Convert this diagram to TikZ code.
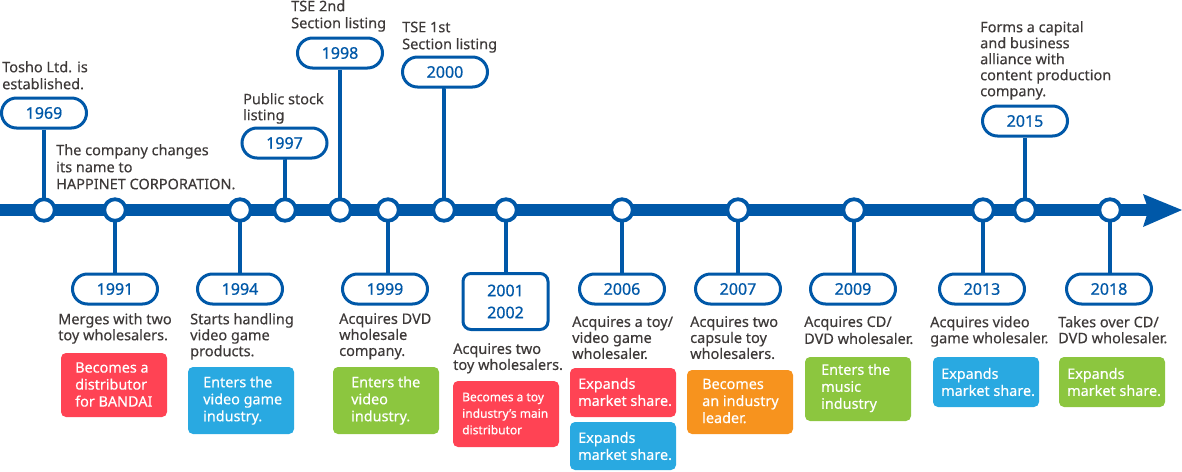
\documentclass[tikz,border=0pt]{standalone}
\usepackage{fontspec}
\setmainfont{Noto Sans}[FakeBold=0.35]
\newfontfamily\yearfont{Noto Sans}[FakeBold=0.6]
\definecolor{tlblue}{HTML}{0058A8}
\definecolor{txtgray}{HTML}{3E3A39}
\definecolor{bred}{HTML}{FF4354}
\definecolor{bblue}{HTML}{29A9E1}
\definecolor{bgreen}{HTML}{8CC63F}
\definecolor{borange}{HTML}{F7931E}
\tikzset{
  x=1pt,y=-1pt,
  yearpill/.style={draw=tlblue,line width=3pt,fill=white,rounded corners=15pt,minimum width=85pt,minimum height=30pt,inner sep=0pt,text=tlblue,font=\fontsize{16}{22}\yearfont,align=center},
  yearbox/.style={yearpill,rounded corners=8pt,minimum height=56pt},
  dotnode/.style={circle,draw=tlblue,line width=3.8pt,fill=white,minimum size=21.5pt,inner sep=0pt},
  stem/.style={draw=tlblue,line width=4.2pt},
  desc/.style={anchor=north west,inner sep=0pt,text=txtgray,align=left,font=\fontsize{14.5}{16}\selectfont},
  desctall/.style={desc,font=\fontsize{14.5}{17}\selectfont},
  tagtext/.style={anchor=west,inner sep=0pt,text=white,align=left,font=\fontsize{14.4}{17}\selectfont},
  tagsmall/.style={tagtext,font=\fontsize{12}{16.5}\selectfont},
}
\begin{document}
\begin{tikzpicture}
\useasboundingbox (0,0) rectangle (1182,471);
% axis
\coordinate (axl) at (0,210);
\coordinate (axr) at (1150,210);
\draw[tlblue,line width=12pt] (axl) -- (axr);
\fill[tlblue] (1143,194) -- (1182,210) -- (1143,227) -- (1148.5,210) -- cycle;
% year pills
\node[yearpill] (y1969) at (44,113) {1969};
\node[yearpill] (y1997) at (284.5,143) {1997};
\node[yearpill] (y1998) at (340,53) {1998};
\node[yearpill] (y2000) at (445,72) {2000};
\node[yearpill] (y2015) at (1025,121) {2015};
\node[yearpill] (y1991) at (115,289) {1991};
\node[yearpill] (y1994) at (240,289) {1994};
\node[yearpill] (y1999) at (385,289) {1999};
\node[yearbox] (y2001) at (505.5,301.5) {2001\\2002};
\node[yearpill] (y2006) at (622,289) {2006};
\node[yearpill] (y2007) at (738,289) {2007};
\node[yearpill] (y2009) at (853,289) {2009};
\node[yearpill] (y2013) at (982,289) {2013};
\node[yearpill] (y2018) at (1109,289) {2018};
% dots
\foreach \n/\x in {a/44,b/115,c/240,d/285,e/340,f/388,g/444,h/506,i/622,j/738,k/854,l/983,m/1025,n/1110}
  \coordinate (p\n) at (\x,210);
% connectors
\draw[stem] (y1969.south) -- (pa);
\draw[stem] (pb) -- (y1991.north);
\draw[stem] (pc) -- (y1994.north);
\draw[stem] (y1997.south) -- (pd|-y1997.south) -- (pd);
\draw[stem] (y1998.south) -- (pe);
\draw[stem] (pf) -- (pf|-y1999.north);
\draw[stem] (y2000.south) -- (pg|-y2000.south) -- (pg);
\draw[stem] (ph) -- (ph|-y2001.north);
\draw[stem] (pi) -- (y2006.north);
\draw[stem] (pj) -- (y2007.north);
\draw[stem] (pk) -- (pk|-y2009.north);
\draw[stem] (pl) -- (pl|-y2013.north);
\draw[stem] (y2015.south) -- (pm);
\draw[stem] (pn) -- (pn|-y2018.north);
\foreach \n in {a,b,c,d,e,f,g,h,i,j,k,l,m,n}
  \node[dotnode] (d\n) at (p\n) {};
% upper texts
\node[desctall] (t1969) at (2,61) {Tosho Ltd. is\\established.};
\node[desctall] (tname) at (56,144) {The company changes\\its name to\\HAPPINET CORPORATION.};
\node[desc] (t1997) at (243,93) {Public stock\\listing};
\node[desctall] (t1998) at (291,0) {TSE 2nd\\Section listing};
\node[desctall] (t2000) at (402,21.5) {TSE 1st\\Section listing};
\node[desc] (t2015) at (980,21) {Forms a capital\\and business\\alliance with\\content production\\company.};
% lower texts
\node[desc] (t1991) at (58,313) {Merges with two\\toy wholesalers.};
\node[desc] (t1994) at (190,313) {Starts handling\\video game\\products.};
\node[desc] (t1999) at (339,313) {Acquires DVD\\wholesale\\company.};
\node[desc] (t2001) at (453,343) {Acquires two\\toy wholesalers.};
\node[desc] (t2006) at (572,316) {Acquires a toy/\\video game\\wholesaler.};
\node[desc] (t2007) at (690,316) {Acquires two\\capsule toy\\wholesalers.};
\node[desctall] (t2009) at (804,316) {Acquires CD/\\DVD wholesaler.};
\node[desc] (t2013) at (930,316) {Acquires video\\game wholesaler.};
\node[desc] (t2018) at (1058,316) {Takes over CD/\\DVD wholesaler.};
% tag boxes
\fill[bred,rounded corners=5pt] (61,353) rectangle (167,417);
\node[tagtext] (c1) at (75,384.5) {Becomes a\\distributor\\for BANDAI};
\fill[bblue,rounded corners=5pt] (188,367) rectangle (294,434);
\node[tagtext] (c2) at (203,400.5) {Enters the\\video game\\industry.};
\fill[bgreen,rounded corners=5pt] (333,367) rectangle (439,434);
\node[tagtext] (c3) at (351,400.5) {Enters the\\video\\industry.};
\fill[bred,rounded corners=5pt] (453,381) rectangle (559,447);
\node[tagsmall] (c4) at (462,413.5) {Becomes a toy\\industry's main\\distributor};
\fill[bred,rounded corners=5pt] (570,368) rectangle (676,417);
\node[tagtext] (c5) at (578,392) {Expands\\market share.};
\fill[bblue,rounded corners=5pt] (570,422) rectangle (676,470);
\node[tagtext] (c6) at (578,446) {Expands\\market share.};
\fill[borange,rounded corners=5pt] (687,370) rectangle (793,434);
\node[tagtext] (c7) at (702,401) {Becomes\\an industry\\leader.};
\fill[bgreen,rounded corners=5pt] (805,357) rectangle (911,421);
\node[tagtext] (c8) at (821,388) {Enters the\\music\\industry};
\fill[bblue,rounded corners=5pt] (933,357) rectangle (1039,407);
\node[tagtext] (c9) at (941,382) {Expands\\market share.};
\fill[bgreen,rounded corners=5pt] (1059,357) rectangle (1165,407);
\node[tagtext] (c10) at (1067,382) {Expands\\market share.};
\end{tikzpicture}
\end{document}
